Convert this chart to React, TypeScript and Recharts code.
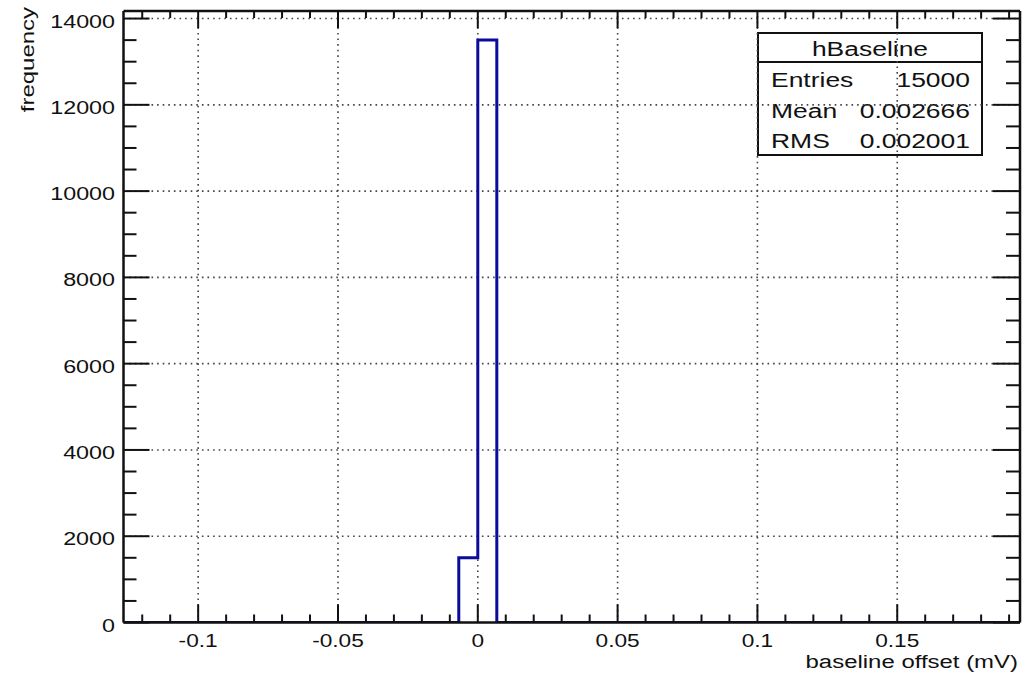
import React from "react";
import { ComposedChart, Line, XAxis, YAxis, ReferenceLine, Customized } from "recharts";

// histogram bins (only non-empty ones), x in mV
const binWidth = 0.0068;
const binStarts = [-0.0068, 0];
const binCounts = [1500, 13500];

const xDomain = [-0.1267, 0.1939];
const yDomain = [0, 14175];

const xMajorTicks = [-0.1, -0.05, 0, 0.05, 0.1, 0.15];
const xMinorTicks = [
  -0.12, -0.11, -0.1, -0.09, -0.08, -0.07, -0.06, -0.05, -0.04, -0.03, -0.02, -0.01, 0,
  0.01, 0.02, 0.03, 0.04, 0.05, 0.06, 0.07, 0.08, 0.09, 0.1, 0.11, 0.12, 0.13, 0.14, 0.15,
  0.16, 0.17, 0.18, 0.19,
];
const yMajorTicks = [0, 2000, 4000, 6000, 8000, 10000, 12000, 14000];
const yMinorTicks = [
  0, 500, 1000, 1500, 2000, 2500, 3000, 3500, 4000, 4500, 5000, 5500, 6000, 6500, 7000,
  7500, 8000, 8500, 9000, 9500, 10000, 10500, 11000, 11500, 12000, 12500, 13000, 13500, 14000,
];

const statsTitle = "hBaseline";
const statsRows = [
  ["Entries", "15000"],
  ["Mean", "0.002666"],
  ["RMS", "0.002001"],
];

const FONT = "'Liberation Sans', Arial, Helvetica, sans-serif";
const SX = 1.26; // the original font is drawn wide
const HIST = "#0b0b9c";

// step outline of the histogram
const steps: { x: number; count: number }[] = [{ x: xDomain[0], count: 0 }];
binStarts.forEach((s, i) => steps.push({ x: s, count: binCounts[i] }));
steps.push({ x: binStarts[binStarts.length - 1] + binWidth, count: 0 });
steps.push({ x: xDomain[1], count: 0 });

const isMajor = (list: number[], v: number) => list.some((m) => Math.abs(m - v) < 1e-9);

function Wide({ x, y, size, anchor, rotate, children }: any) {
  const tf = rotate
    ? `translate(${x},${y}) rotate(-90) scale(${SX},1)`
    : `translate(${x},${y}) scale(${SX},1)`;
  return (
    <g transform={tf}>
      <text x={0} y={0} fontSize={size} fontFamily={FONT} fill="#111" textAnchor={anchor}>
        {children}
      </text>
    </g>
  );
}

function BottomTick({ x, y, payload }: any) {
  const major = isMajor(xMajorTicks, payload.value);
  return (
    <g>
      <line x1={x} x2={x} y1={y} y2={y - (major ? 18 : 8)} stroke="#111" strokeWidth={2} />
      {major && (
        <Wide x={x} y={y + 24.5} size={18} anchor="middle">
          {String(payload.value)}
        </Wide>
      )}
    </g>
  );
}

function TopTick({ x, y, payload }: any) {
  const major = isMajor(xMajorTicks, payload.value);
  return <line x1={x} x2={x} y1={y} y2={y + (major ? 17 : 7)} stroke="#111" strokeWidth={2} />;
}

function LeftTick({ x, y, payload }: any) {
  const major = isMajor(yMajorTicks, payload.value);
  return (
    <g>
      <line x1={x} x2={x + (major ? 26 : 13)} y1={y} y2={y} stroke="#111" strokeWidth={2} />
      {major && (
        <Wide x={x - 8.5} y={y + 9} size={18.5} anchor="end">
          {String(payload.value)}
        </Wide>
      )}
    </g>
  );
}

function RightTick({ x, y, payload }: any) {
  const major = isMajor(yMajorTicks, payload.value);
  return <line x1={x} x2={x - (major ? 27 : 14)} y1={y} y2={y} stroke="#111" strokeWidth={2} />;
}

function Overlay() {
  const bx = 758, by = 33, bw = 224, bh = 122;
  return (
    <g>
      <rect x={bx} y={by} width={bw} height={bh} fill="#fff" stroke="#111" strokeWidth={2} />
      <line x1={bx} x2={bx + bw} y1={62} y2={62} stroke="#111" strokeWidth={2} />
      <Wide x={bx + bw / 2} y={56} size={21} anchor="middle">{statsTitle}</Wide>
      {statsRows.map(([k, v], i) => (
        <g key={k}>
          <Wide x={771} y={87 + i * 30.5} size={21} anchor="start">{k}</Wide>
          <Wide x={970} y={87 + i * 30.5} size={21} anchor="end">{v}</Wide>
        </g>
      ))}
      <Wide x={1018} y={668} size={19} anchor="end">baseline offset (mV)</Wide>
      <Wide x={34} y={7} size={19} anchor="end" rotate>frequency</Wide>
    </g>
  );
}

export default function App() {
  return (
    <div style={{ position: "absolute", left: 0, top: 0, width: 1035, height: 675, background: "#fff" }}>
      <ComposedChart
        width={1035}
        height={675}
        data={steps}
        margin={{ top: 1, right: 5, bottom: 2.5, left: 63.5 }}
      >
        <XAxis
          xAxisId="x"
          dataKey="x"
          type="number"
          domain={xDomain}
          allowDataOverflow
          ticks={xMinorTicks}
          interval={0}
          height={50}
          tickSize={0}
          tickMargin={0}
          tick={(p: any) => <BottomTick {...p} />}
          axisLine={{ stroke: "#111", strokeWidth: 2.5 }}
        />
        <XAxis
          xAxisId="top"
          orientation="top"
          dataKey="x"
          type="number"
          domain={xDomain}
          allowDataOverflow
          ticks={xMinorTicks}
          interval={0}
          height={10}
          tickSize={0}
          tickMargin={0}
          tick={(p: any) => <TopTick {...p} />}
          axisLine={{ stroke: "#111", strokeWidth: 2.5 }}
        />
        <YAxis
          yAxisId="y"
          type="number"
          domain={yDomain}
          allowDataOverflow
          ticks={yMinorTicks}
          interval={0}
          width={60}
          tickSize={0}
          tickMargin={0}
          tick={(p: any) => <LeftTick {...p} />}
          axisLine={{ stroke: "#111", strokeWidth: 2.5 }}
        />
        <YAxis
          yAxisId="right"
          orientation="right"
          type="number"
          domain={yDomain}
          allowDataOverflow
          ticks={yMinorTicks}
          interval={0}
          width={10}
          tickSize={0}
          tickMargin={0}
          tick={(p: any) => <RightTick {...p} />}
          axisLine={{ stroke: "#111", strokeWidth: 2.5 }}
        />
        {xMajorTicks.map((v) => (
          <ReferenceLine key={"gx" + v} xAxisId="x" yAxisId="y" x={v} stroke="#444" strokeWidth={1.6} strokeDasharray="1.6 4" />
        ))}
        {yMajorTicks.filter((v) => v > 0).map((v) => (
          <ReferenceLine key={"gy" + v} xAxisId="x" yAxisId="y" y={v} stroke="#444" strokeWidth={1.6} strokeDasharray="1.6 4" />
        ))}
        <Line
          xAxisId="x"
          yAxisId="y"
          type="stepAfter"
          dataKey="count"
          stroke={HIST}
          strokeWidth={3}
          dot={false}
          activeDot={false}
          isAnimationActive={false}
        />
        <Customized component={<Overlay />} />
      </ComposedChart>
    </div>
  );
}
